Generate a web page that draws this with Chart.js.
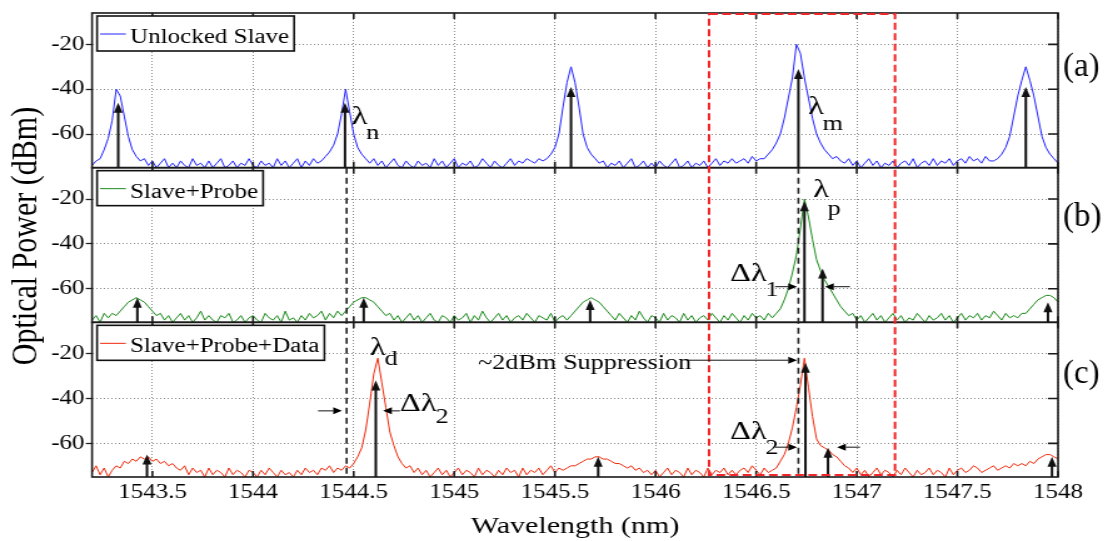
<!DOCTYPE html>
<html>
<head>
<meta charset="utf-8">
<script src="https://cdn.jsdelivr.net/npm/chart.js@4.4.1/dist/chart.umd.min.js"></script>
<style>
  html, body { margin: 0; padding: 0; background: #fff; overflow: hidden; }
  /* the source figure is wider than it is tall in its lettering, so the canvas is stretched sideways */
  #wrap { width: 886px; height: 541px; transform: scaleX(1.2506); transform-origin: 0 0; }
</style>
</head>
<body>
<div id="wrap"><canvas id="spectra" width="886" height="541"></canvas></div>
<script>
// x axis
const xMin = 1543.2, xMax = 1548;
const xTicks = [1543.5, 1544, 1544.5, 1545, 1545.5, 1546, 1546.5, 1547, 1547.5, 1548];
// y axis of each panel (dBm)
const yMin = -75, yMax = -6;
const yTicks = [-60, -40, -20];

// OSA traces, one sample every 0.02 nm from 1543.20 nm
const unlockedSlave = [
  -74, -72, -71, -67, -62, -54, -40, -43, -52, -61,
  -67, -70, -72, -71, -74, -72, -75, -73, -71, -75,
  -73, -75, -72, -74, -75, -71, -74, -73, -75, -72,
  -75, -73, -71, -75, -74, -72, -75, -73, -74, -71,
  -74, -75, -72, -74, -73, -75, -71, -74, -72, -75,
  -73, -71, -75, -72, -74, -71, -73, -72, -70, -68,
  -65, -60, -51, -40, -50, -60, -66, -69, -71, -73,
  -71, -74, -72, -75, -73, -71, -74, -75, -72, -74,
  -75, -72, -74, -73, -75, -71, -74, -72, -75, -73,
  -71, -75, -73, -74, -72, -75, -74, -71, -73, -75,
  -72, -74, -75, -73, -71, -74, -72, -73, -71, -72,
  -73, -71, -72, -71, -69, -66, -60, -48, -37, -30,
  -37, -48, -60, -66, -69, -71, -73, -72, -75, -73,
  -74, -72, -75, -73, -71, -75, -74, -72, -75, -73,
  -75, -72, -74, -75, -73, -71, -75, -74, -72, -75,
  -73, -74, -72, -75, -73, -71, -74, -72, -73, -71,
  -73, -72, -71, -73, -70, -72, -71, -71, -69, -67,
  -64, -60, -53, -44, -35, -20, -24, -35, -44, -53,
  -60, -64, -67, -69, -71, -70, -72, -73, -71, -74,
  -72, -75, -73, -71, -74, -72, -75, -73, -74, -72,
  -75, -73, -72, -74, -71, -75, -73, -72, -74, -71,
  -74, -72, -73, -71, -74, -72, -71, -73, -70, -72,
  -71, -73, -70, -72, -72, -71, -69, -66, -61, -52,
  -43, -36, -30, -36, -43, -52, -61, -66, -69, -71,
  -73
];
const slaveProbe = [
  -74, -72, -75, -71, -73, -71, -72, -70, -68, -66,
  -65, -64, -65, -66, -68, -70, -72, -71, -74, -72,
  -75, -73, -71, -74, -72, -75, -73, -70, -74, -72,
  -74, -75, -72, -73, -71, -75, -74, -72, -75, -73,
  -72, -74, -75, -71, -73, -74, -72, -75, -70, -74,
  -73, -75, -72, -74, -71, -73, -72, -70, -74, -71,
  -73, -70, -72, -70, -68, -66, -65, -64, -64, -65,
  -66, -68, -70, -72, -71, -74, -72, -75, -73, -71,
  -74, -72, -75, -73, -71, -74, -75, -72, -73, -75,
  -72, -74, -73, -71, -75, -72, -74, -70, -73, -75,
  -73, -71, -74, -72, -75, -73, -72, -74, -71, -73,
  -75, -72, -73, -74, -71, -75, -73, -72, -74, -72,
  -70, -68, -66, -65, -64, -65, -66, -68, -70, -72,
  -74, -71, -73, -75, -72, -74, -70, -73, -75, -72,
  -73, -75, -71, -74, -72, -73, -75, -71, -74, -72,
  -75, -73, -72, -74, -71, -73, -75, -72, -74, -71,
  -73, -75, -72, -74, -71, -73, -72, -74, -71, -73,
  -71, -69, -65, -60, -53, -45, -33, -20, -28, -38,
  -47, -52, -56, -59, -62, -65, -68, -70, -72, -71,
  -74, -72, -75, -73, -71, -74, -72, -75, -73, -71,
  -74, -72, -75, -73, -74, -71, -73, -75, -72, -74,
  -73, -71, -74, -72, -75, -73, -71, -74, -72, -73,
  -71, -74, -72, -73, -70, -72, -74, -71, -73, -72,
  -73, -71, -71, -69, -67, -65, -64, -63, -63, -64,
  -66
];
const slaveProbeData = [
  -73, -70, -74, -71, -75, -72, -70, -71, -68, -69,
  -67, -68, -66, -67, -66, -68, -67, -69, -68, -70,
  -69, -71, -72, -70, -74, -71, -73, -72, -75, -71,
  -74, -72, -73, -75, -71, -74, -72, -73, -75, -72,
  -73, -75, -72, -74, -71, -73, -75, -72, -74, -73,
  -75, -72, -74, -71, -73, -72, -74, -71, -72, -70,
  -73, -71, -72, -70, -71, -69, -66, -62, -54, -42,
  -29, -22, -33, -44, -55, -61, -66, -69, -71, -70,
  -73, -71, -74, -72, -75, -73, -71, -74, -72, -75,
  -73, -71, -74, -72, -73, -75, -71, -74, -72, -73,
  -75, -72, -74, -71, -73, -72, -75, -71, -74, -72,
  -73, -71, -74, -72, -70, -73, -71, -72, -71, -70,
  -70, -69, -68, -67, -67, -66, -66, -67, -67, -68,
  -69, -69, -70, -71, -70, -72, -71, -73, -72, -74,
  -72, -75, -73, -71, -74, -72, -73, -75, -71, -74,
  -72, -73, -75, -71, -74, -72, -73, -71, -74, -72,
  -74, -72, -71, -73, -70, -72, -74, -71, -73, -72,
  -71, -68, -65, -60, -53, -44, -34, -22, -35, -48,
  -58, -61, -62, -63, -65, -66, -68, -70, -71, -73,
  -71, -74, -72, -75, -73, -71, -74, -72, -73, -75,
  -72, -74, -71, -73, -75, -72, -74, -73, -71, -74,
  -72, -73, -75, -71, -74, -72, -71, -73, -72, -70,
  -71, -73, -72, -71, -70, -72, -71, -70, -71, -69,
  -70, -69, -70, -68, -69, -67, -66, -65, -65, -66,
  -67
];
const wavelengths = unlockedSlave.map((_, i) => +(1543.2 + 0.02 * i).toFixed(2));

// peak markers [wavelength, tip level] for each panel
const markersA = [[1543.33, -46], [1544.457, -46], [1545.58, -39], [1546.71, -31], [1547.84, -39]];
const markersB = [[1543.425, -64], [1544.55, -64], [1545.675, -65], [1546.74, -21], [1546.83, -51], [1547.95, -66]];
const markersC = [[1543.473, -65], [1544.61, -32], [1545.715, -66], [1546.745, -24], [1546.857, -62], [1547.97, -66]];
// dashed reference wavelengths and the highlighted window
const guideLines = [1544.465, 1546.71];
const windowRange = [1546.266, 1547.19];

const FONT = "'Liberation Serif', 'Times New Roman', serif";
const SX = 1.2506;
const INK = '#000';

function panelAxis() {
  return {
    type: 'linear', position: 'left', stack: 'panels', stackWeight: 1,
    min: yMin, max: yMax,
    afterBuildTicks: s => { s.ticks = yTicks.map(v => ({ value: v })); },
    afterFit: s => { s.width = 40; },
    grid: { color: '#8a8a8a', lineWidth: 1, tickLength: 5, tickColor: '#222', tickWidth: 1.3, tickBorderDash: [] },
    border: { display: false, dash: [1, 2] },
    ticks: { color: INK, font: { family: FONT, size: 20 }, padding: 1, callback: v => String(v) }
  };
}

function toPts(series) {
  return wavelengths.map((w, i) => ({ x: w, y: series[i] }));
}

function upArrow(ctx, xp, yBase, yTip) {
  const head = 10, half = 3.6;
  ctx.beginPath(); ctx.moveTo(xp, yBase); ctx.lineTo(xp, yTip + head - 1); ctx.stroke();
  ctx.beginPath(); ctx.moveTo(xp, yTip); ctx.lineTo(xp - half, yTip + head); ctx.lineTo(xp + half, yTip + head);
  ctx.closePath(); ctx.fill();
}
function sideArrow(ctx, x1, x2, y) {
  const dir = Math.sign(x2 - x1), head = 7, half = 3.5;
  ctx.beginPath(); ctx.moveTo(x1, y); ctx.lineTo(x2 - dir * head, y); ctx.stroke();
  ctx.beginPath(); ctx.moveTo(x2, y); ctx.lineTo(x2 - dir * head, y - half); ctx.lineTo(x2 - dir * head, y + half);
  ctx.closePath(); ctx.fill();
}
function subText(ctx, main, sub, xp, yp, dy) {
  ctx.font = '26px ' + FONT; ctx.fillText(main, xp, yp);
  const w = ctx.measureText(main).width;
  ctx.font = '21px ' + FONT; ctx.fillText(sub, xp + w - 1, yp + dy);
}
function legendBox(ctx, left, top, label, color) {
  ctx.font = '20px ' + FONT;
  const w = 26.4 + ctx.measureText(label).width + 4, h = 35;
  ctx.fillStyle = '#fff'; ctx.fillRect(left, top, w, h);
  ctx.setLineDash([]); ctx.strokeStyle = '#111'; ctx.lineWidth = 1.6; ctx.strokeRect(left, top, w, h);
  ctx.strokeStyle = color; ctx.lineWidth = 1;
  ctx.beginPath(); ctx.moveTo(left + 2.4, top + 18); ctx.lineTo(left + 23, top + 18); ctx.stroke();
  ctx.fillStyle = INK; ctx.fillText(label, left + 26.4, top + 27);
}

const decor = {
  id: 'decor',
  afterDatasetsDraw(chart) {
    const { ctx, chartArea: ca, scales } = chart;
    const px = v => scales.x.getPixelForValue(v);
    const panels = [scales.yA, scales.yB, scales.yC];
    const [pA, pB, pC] = panels;
    ctx.save();
    ctx.textAlign = 'left'; ctx.textBaseline = 'alphabetic';

    // axes boxes with inward ticks
    ctx.strokeStyle = '#1a1a1a'; ctx.lineWidth = 1.6; ctx.setLineDash([]);
    panels.forEach(p => {
      ctx.strokeRect(ca.left, p.top, ca.right - ca.left, p.bottom - p.top);
      ctx.beginPath();
      xTicks.forEach(v => {
        ctx.moveTo(px(v), p.top); ctx.lineTo(px(v), p.top + 6);
        ctx.moveTo(px(v), p.bottom); ctx.lineTo(px(v), p.bottom - 6);
      });
      yTicks.forEach(v => {
        const y = p.getPixelForValue(v);
        ctx.moveTo(ca.right, y); ctx.lineTo(ca.right - 8, y);
      });
      ctx.stroke();
    });

    // peak markers
    ctx.fillStyle = '#111'; ctx.strokeStyle = '#111'; ctx.lineWidth = 2;
    [[pA, markersA], [pB, markersB], [pC, markersC]].forEach(([p, list]) => {
      list.forEach(([w, tip]) => upArrow(ctx, px(w), p.bottom, p.getPixelForValue(tip)));
    });

    // dashed guides from panel (a) down to panel (c)
    ctx.setLineDash([6, 4]); ctx.lineWidth = 1.6; ctx.strokeStyle = '#222';
    guideLines.forEach(w => {
      ctx.beginPath(); ctx.moveTo(px(w), pA.bottom); ctx.lineTo(px(w), pC.bottom); ctx.stroke();
    });

    // highlighted window
    ctx.setLineDash([7, 3.5]); ctx.lineWidth = 2; ctx.strokeStyle = '#f0262a';
    ctx.strokeRect(px(windowRange[0]), pA.top + 1, px(windowRange[1]) - px(windowRange[0]), pC.bottom - 2 - pA.top - 1);
    ctx.setLineDash([]);

    // labels and linewidth arrows
    ctx.fillStyle = INK; ctx.strokeStyle = '#111'; ctx.lineWidth = 1;
    subText(ctx, 'λ', 'n', px(1544.49), pA.getPixelForValue(-55.5), 15);
    subText(ctx, 'λ', 'm', px(1546.758), pA.getPixelForValue(-51), 16);
    subText(ctx, 'λ', 'p', px(1546.783), pB.getPixelForValue(-19.3), 18);
    subText(ctx, 'Δλ', '1', px(1546.37), pB.getPixelForValue(-56.5), 15);
    subText(ctx, 'λ', 'd', px(1544.581), pC.getPixelForValue(-20.7), 10);
    subText(ctx, 'Δλ', '2', px(1544.73), pC.getPixelForValue(-45.7), 12);
    subText(ctx, 'Δλ', '2', px(1546.37), pC.getPixelForValue(-57.9), 15);
    ctx.font = '21px ' + FONT;
    ctx.fillText('~2dBm Suppression', px(1545.118), pC.getPixelForValue(-26.9));

    sideArrow(ctx, px(1546.594), px(1546.703), pB.getPixelForValue(-59.1));
    sideArrow(ctx, px(1546.966), px(1546.842), pB.getPixelForValue(-59.1));
    sideArrow(ctx, px(1544.323), px(1544.442), pC.getPixelForValue(-45.5));
    sideArrow(ctx, px(1544.73), px(1544.646), pC.getPixelForValue(-45.5));
    sideArrow(ctx, px(1546.157), px(1546.703), pC.getPixelForValue(-22.9));
    sideArrow(ctx, px(1546.594), px(1546.703), pC.getPixelForValue(-61.7));
    sideArrow(ctx, px(1547.016), px(1546.902), pC.getPixelForValue(-61.7));

    // legends
    legendBox(ctx, ca.left + 4, pA.top + 3, 'Unlocked Slave', '#2222ff');
    legendBox(ctx, ca.left + 4, pB.top + 3, 'Slave+Probe', '#1b8a1b');
    legendBox(ctx, ca.left + 4, pC.top + 3, 'Slave+Probe+Data', '#ee2a0c');

    // panel tags, drawn unstretched
    ctx.fillStyle = INK; ctx.textBaseline = 'middle';
    [['(a)', pA, 54], ['(b)', pB, 50], ['(c)', pC, 52]].forEach(([t, p, dy]) => {
      ctx.save(); ctx.translate(850, p.top + dy); ctx.scale(1 / SX, 1);
      ctx.font = '33px ' + FONT; ctx.fillText(t, 0, 0); ctx.restore();
    });

    // shared y title
    ctx.save(); ctx.translate(21.6, 236); ctx.rotate(-Math.PI / 2);
    ctx.textAlign = 'center'; ctx.font = '30px ' + FONT;
    ctx.fillText('Optical Power (dBm)', 0, 0); ctx.restore();

    ctx.restore();
  }
};

new Chart(document.getElementById('spectra').getContext('2d'), {
  type: 'line',
  data: {
    datasets: [
      { label: 'Unlocked Slave', data: toPts(unlockedSlave), yAxisID: 'yA', borderColor: '#2222ff' },
      { label: 'Slave+Probe', data: toPts(slaveProbe), yAxisID: 'yB', borderColor: '#1b8a1b' },
      { label: 'Slave+Probe+Data', data: toPts(slaveProbeData), yAxisID: 'yC', borderColor: '#ee2a0c' }
    ]
  },
  options: {
    responsive: false,
    animation: false,
    devicePixelRatio: 1,
    layout: { padding: { left: 33.6, right: 40, top: 4, bottom: 0 } },
    elements: { point: { radius: 0 }, line: { borderWidth: 1, tension: 0 } },
    plugins: { legend: { display: false }, tooltip: { enabled: false } },
    scales: {
      x: {
        type: 'linear', position: 'bottom', min: xMin, max: xMax,
        afterBuildTicks: s => { s.ticks = xTicks.map(v => ({ value: v })); },
        afterFit: s => { s.height = 64; },
        grid: { color: '#8a8a8a', lineWidth: 1, drawTicks: false },
        border: { display: false, dash: [1, 2] },
        ticks: { color: INK, font: { family: FONT, size: 20 }, padding: 4, maxRotation: 0, callback: v => String(v) },
        title: { display: true, text: 'Wavelength (nm)', color: INK, font: { family: FONT, size: 24 }, padding: { top: 0, bottom: 0 } }
      },
      yC: panelAxis(),
      yB: panelAxis(),
      yA: panelAxis()
    }
  },
  plugins: [decor]
});
</script>
</body>
</html>
